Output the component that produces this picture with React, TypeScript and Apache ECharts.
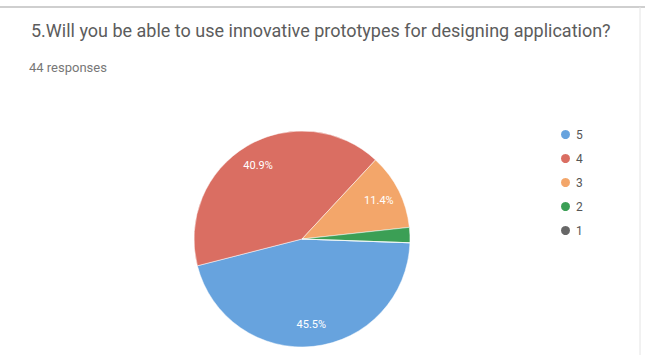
import React, { useEffect, useRef } from "react";
import * as echarts from "echarts";

const titleText = "5.Will you be able to use innovative prototypes for designing application?";
const subtitleText = "44 responses";
const categories = ["5", "4", "3", "2", "1"];
const counts = [20, 18, 5, 1, 0];
const colors = ["#67a3de", "#da6e62", "#f3a66a", "#3b9f55", "#676767"];

export default function App() {
  const ref = useRef<HTMLDivElement>(null);
  useEffect(() => {
    if (!ref.current) return;
    const chart = echarts.init(ref.current, undefined, { renderer: "svg" });
    const data = categories.map((c, i) => ({ name: c, value: counts[i] }));
    const total = counts.reduce((a, b) => a + b, 0);
    chart.setOption({
      animation: false,
      color: colors,
      title: [
        {
          text: titleText,
          left: 26,
          top: 16,
          textStyle: { fontFamily: "Roboto", fontSize: 18, fontWeight: "normal", color: "#5c5c5c" },
        },
        {
          text: subtitleText,
          left: 24,
          top: 56,
          textStyle: { fontFamily: "Roboto", fontSize: 13, fontWeight: "normal", color: "#777" },
        },
      ],
      legend: {
        orient: "vertical",
        left: 554,
        top: 123,
        itemWidth: 11,
        itemHeight: 11,
        itemGap: 11,
        icon: "circle",
        data: categories,
        textStyle: { fontFamily: "Roboto", fontSize: 12, color: "#555" },
      },
      graphic: [
        { type: "line", shape: { x1: 0, y1: 7, x2: 645, y2: 7 }, style: { stroke: "#cfcfcf", lineWidth: 2 } },
        { type: "line", shape: { x1: 640, y1: 7, x2: 640, y2: 355 }, style: { stroke: "#e4e4e4", lineWidth: 1 } },
      ],
      series: [
        {
          type: "pie",
          center: [302, 239],
          radius: [0, 108],
          startAngle: -2,
          clockwise: true,
          data,
          label: { show: false },
          labelLine: { show: false },
          itemStyle: { borderColor: "#fff", borderWidth: 0.5 },
          silent: true,
        },
        {
          type: "pie",
          center: [302, 239],
          radius: [58, 108],
          startAngle: -2,
          clockwise: true,
          data,
          silent: true,
          itemStyle: { color: "transparent" },
          label: {
            show: true,
            position: "inside",
            color: "#fff",
            fontFamily: "Roboto",
            fontSize: 11,
            formatter: (p: any) => (p.value / total >= 0.05 ? ((p.value / total) * 100).toFixed(1) + "%" : ""),
          },
          labelLine: { show: false },
        },
      ],
    });
    return () => chart.dispose();
  }, []);
  return <div ref={ref} style={{ width: 645, height: 355, position: "absolute", left: 0, top: 0, background: "#fff" }} />;
}
